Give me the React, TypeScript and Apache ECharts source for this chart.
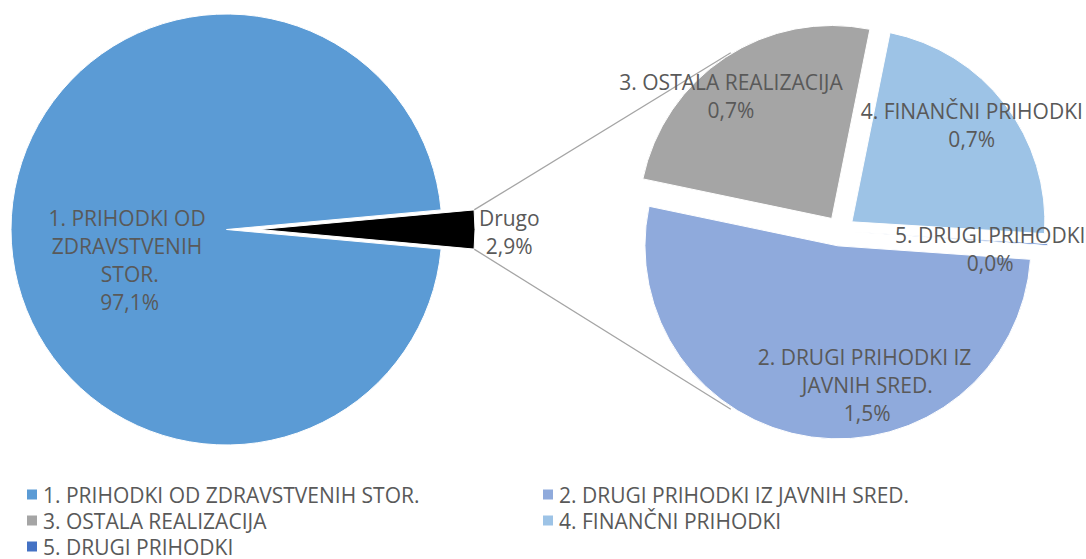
import React, { useEffect, useRef } from "react";
import * as echarts from "echarts";

// ---- data ----
const leftNames = ["1. PRIHODKI OD ZDRAVSTVENIH STOR.", "Drugo"];
const leftValues = [97.1, 2.9];
const rightNames = [
  "2. DRUGI PRIHODKI IZ JAVNIH SRED.",
  "3. OSTALA REALIZACIJA",
  "4. FINANČNI PRIHODKI",
  "5. DRUGI PRIHODKI",
];
const rightValues = [1.51, 0.72, 0.66, 0.004];
const legendCol1 = [leftNames[0], rightNames[1], rightNames[3]];
const legendCol2 = [rightNames[0], rightNames[2]];

// ---- style / layout ----
const leftColors = ["#5B9BD5", "#000000"];
const rightColors = ["#8FAADC", "#A5A5A5", "#9DC3E6", "#4472C4"];
const FONT = "'Open Sans', sans-serif";
const TEXT = "#595959";
const FS = 21;
const L = { cx: 226.5, cy: 229.5, r: 215.5, off: 33 };
const R = { cx: 840, cy: 231, r: 193, off: 15, start: -4 };
const leftLabelWidth = [185, 100];
const rightLabelWidth = [240, 320, 320, 320];
const leftShift = [
  [14, 30],
  [139, 2],
];
const rightShift = [
  [43, 41],
  [-46, -39],
  [41, -36],
  [36, 11],
];

const fmtPct = (v: number) => v.toFixed(1).replace(".", ",") + "%";

export default function App() {
  const ref = useRef<HTMLDivElement>(null);
  useEffect(() => {
    if (!ref.current) return;
    const chart = echarts.init(ref.current, null, { renderer: "svg" });
    const leftSum = leftValues.reduce((a, b) => a + b, 0);
    const leftStart = -((leftValues[1] / leftSum) * 360) / 2;
    const halfA = (((leftValues[1] / leftSum) * 360) / 2) * (Math.PI / 180);
    const bx = L.cx + L.off + L.r * Math.cos(halfA);
    const byTop = L.cy - L.r * Math.sin(halfA);
    const byBot = L.cy + L.r * Math.sin(halfA);
    const ang = (121.5 * Math.PI) / 180;
    const rr = R.r + 16;
    const tx = R.cx + rr * Math.cos(ang);
    const tyTop = R.cy - rr * Math.sin(ang);
    const tyBot = R.cy + rr * Math.sin(ang);

    const labelBase = {
      show: true,
      position: "inside",
      color: TEXT,
      fontFamily: FONT,
      fontSize: FS,
      lineHeight: 28,
      overflow: "break",
      formatter: (p: any) => `${p.name}\n${fmtPct(p.value)}`,
    };
    const legendBase = {
      orient: "vertical",
      top: 484,
      height: 120,
      padding: 0,
      icon: "rect",
      itemWidth: 12,
      itemHeight: 12,
      itemGap: 5,
      selectedMode: false,
      textStyle: { color: TEXT, fontFamily: FONT, fontSize: FS, lineHeight: 20 },
    };

    chart.setOption({
      animation: false,
      backgroundColor: "#ffffff",
      legend: [
        { ...legendBase, left: 25, data: legendCol1 },
        { ...legendBase, left: 541, data: legendCol2 },
      ],
      graphic: [
        {
          type: "line",
          shape: { x1: bx, y1: byTop, x2: tx, y2: tyTop },
          style: { stroke: "#A5A5A5", lineWidth: 1.3 },
          z: 0,
        },
        {
          type: "line",
          shape: { x1: bx, y1: byBot, x2: tx, y2: tyBot },
          style: { stroke: "#A5A5A5", lineWidth: 1.3 },
          z: 0,
        },
      ],
      series: [
        {
          type: "pie",
          center: [L.cx, L.cy],
          radius: [0, L.r],
          startAngle: leftStart,
          clockwise: true,
          selectedMode: "multiple",
          selectedOffset: L.off,
          avoidLabelOverlap: false,
          labelLine: { show: false },
          itemStyle: { borderColor: "#ffffff", borderWidth: 1 },
          emphasis: { disabled: true },
          select: { itemStyle: { borderColor: "#ffffff", borderWidth: 1 } },
          labelLayout: (p: any) => ({ dx: leftShift[p.dataIndex][0], dy: leftShift[p.dataIndex][1] }),
          data: leftNames.map((n, i) => ({
            name: n,
            value: leftValues[i],
            selected: i === 1,
            itemStyle: { color: leftColors[i] },
            label: { ...labelBase, width: leftLabelWidth[i] },
          })),
        },
        {
          type: "pie",
          center: [R.cx, R.cy],
          radius: [0, R.r],
          startAngle: R.start,
          clockwise: true,
          selectedMode: "multiple",
          selectedOffset: R.off,
          avoidLabelOverlap: false,
          labelLine: { show: false },
          itemStyle: { borderColor: "#ffffff", borderWidth: 1 },
          emphasis: { disabled: true },
          select: { itemStyle: { borderColor: "#ffffff", borderWidth: 1 } },
          labelLayout: (p: any) => ({ dx: rightShift[p.dataIndex][0], dy: rightShift[p.dataIndex][1] }),
          data: rightNames.map((n, i) => ({
            name: n,
            value: rightValues[i],
            selected: true,
            itemStyle: { color: rightColors[i] },
            label: { ...labelBase, width: rightLabelWidth[i] },
          })),
        },
      ],
    });
    return () => chart.dispose();
  }, []);
  return (
    <div
      ref={ref}
      style={{ position: "absolute", left: 0, top: 0, width: 1086, height: 559 }}
    />
  );
}
